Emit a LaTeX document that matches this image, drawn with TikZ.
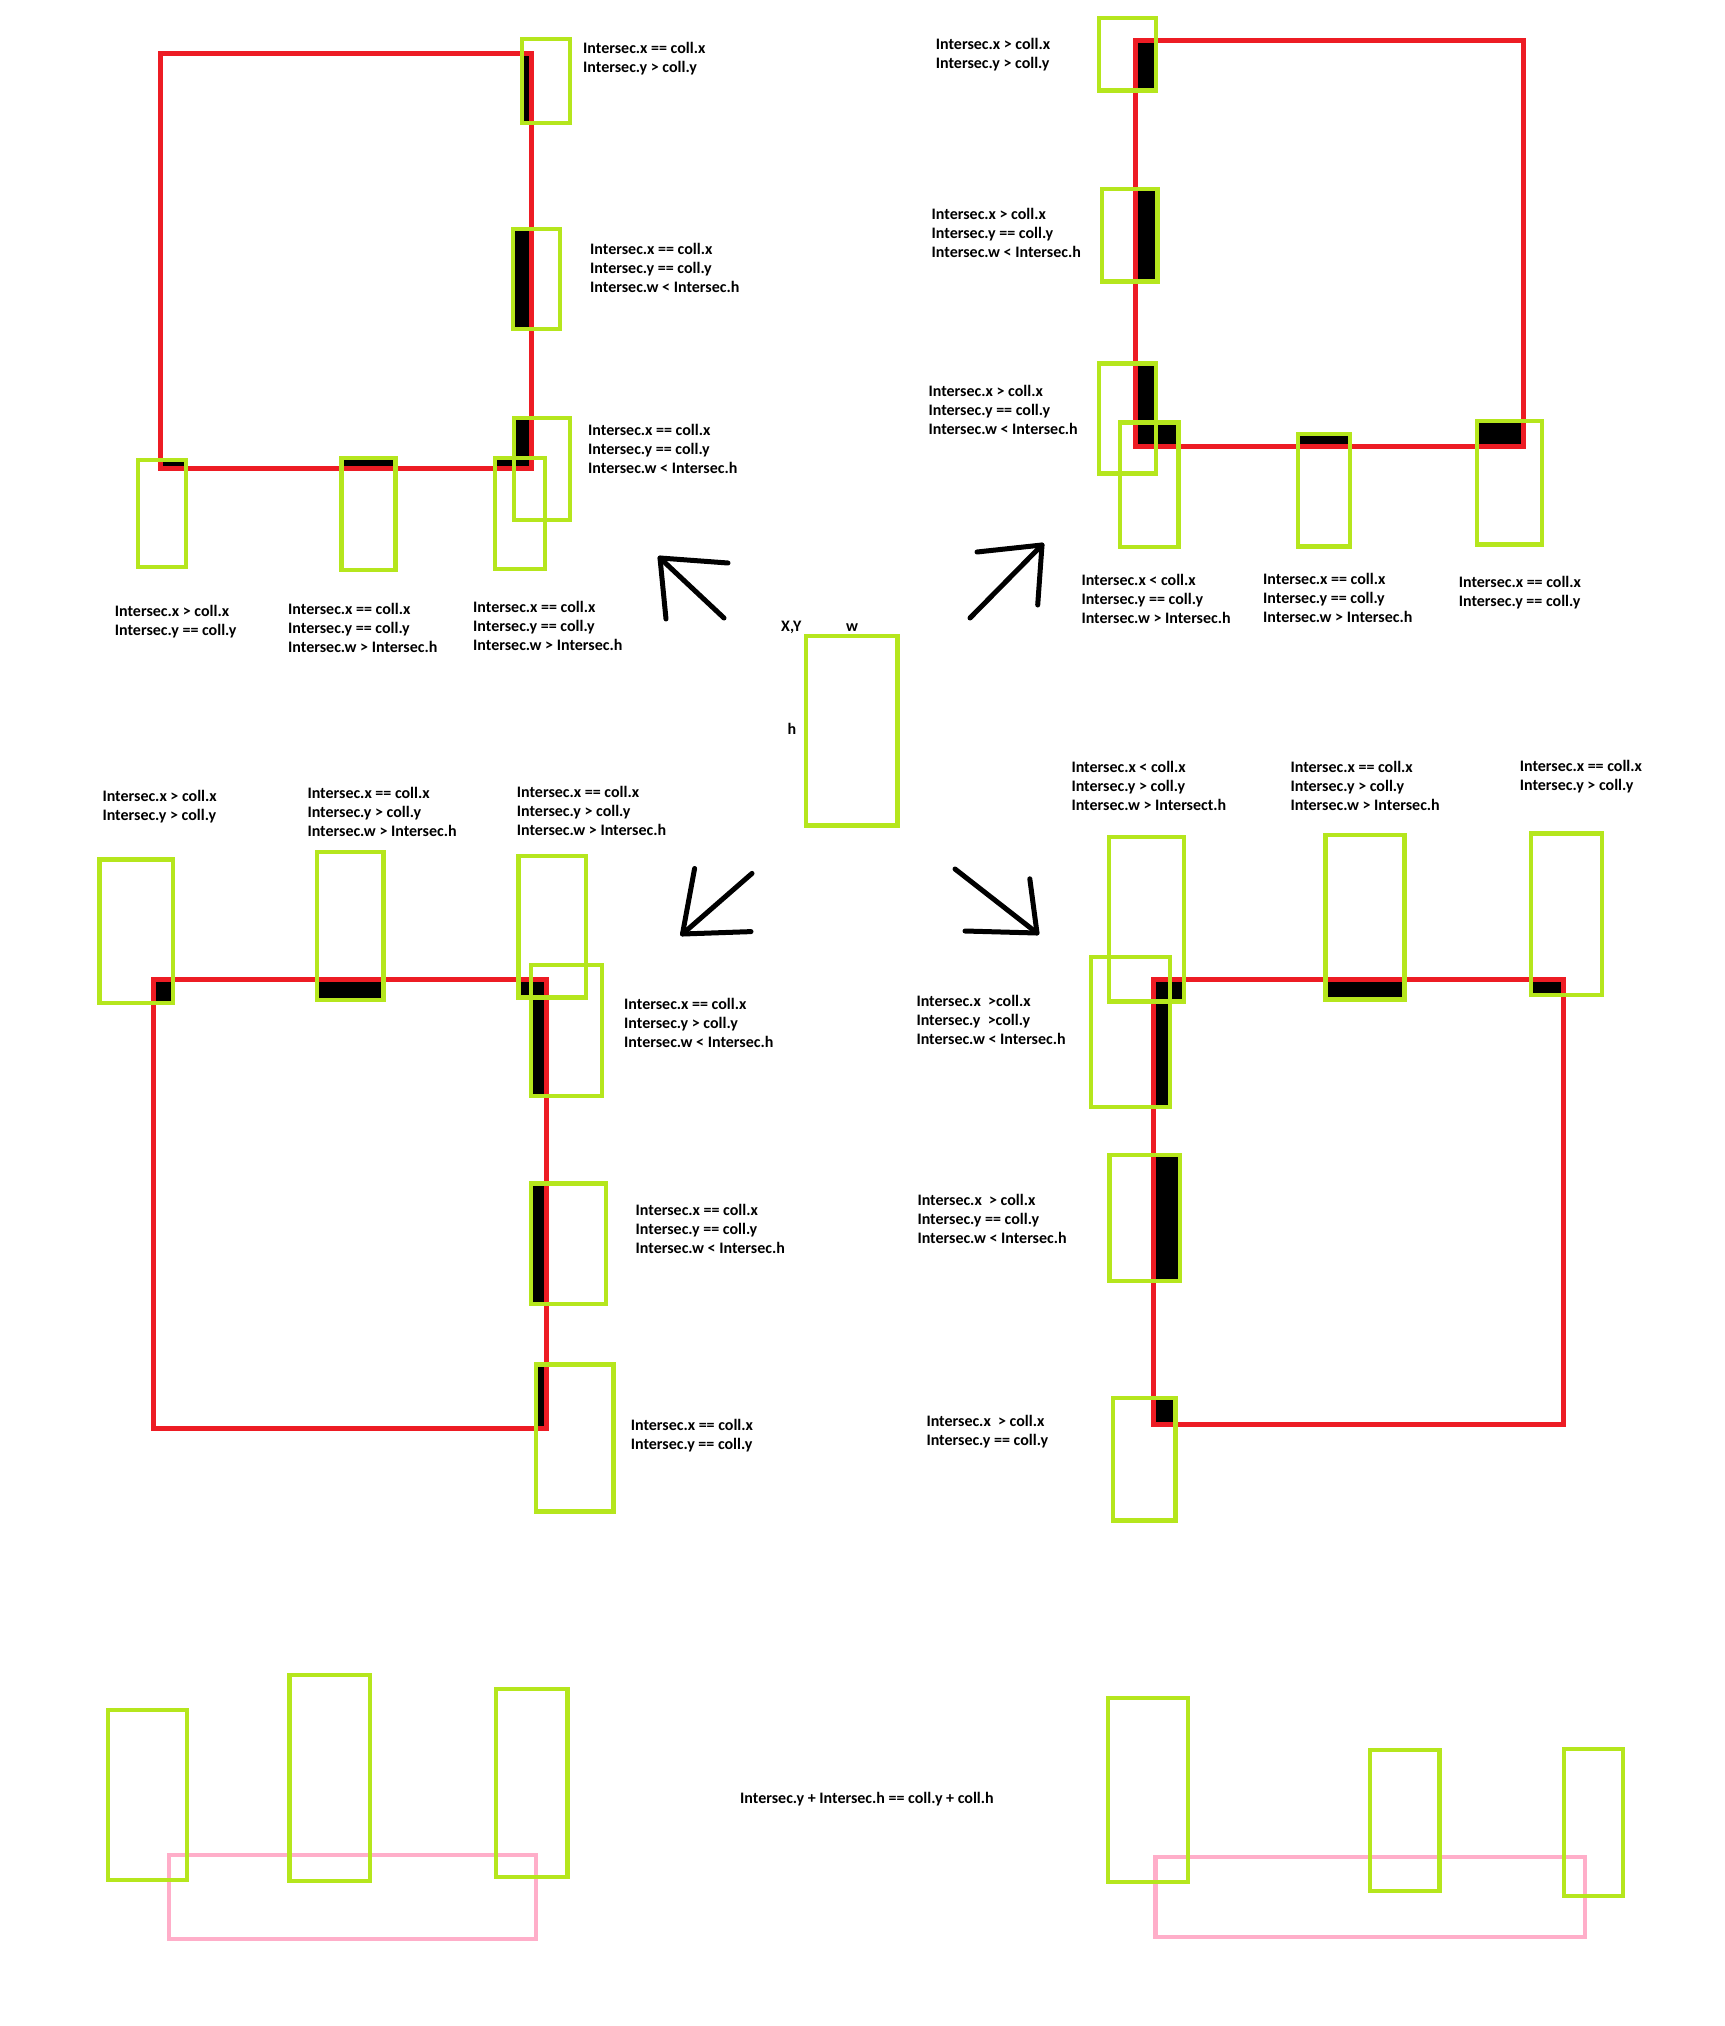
\documentclass[tikz,border=0pt]{standalone}
\usepackage{fontspec}
\setmainfont{Carlito}
\definecolor{pred}{HTML}{ED1C24}
\definecolor{plime}{HTML}{B5E61D}
\definecolor{ppink}{HTML}{FFAEC9}
\tikzset{
  redbox/.style={draw=pred, line width=5pt},
  greenbox/.style={draw=plime, line width=4.5pt},
  pinkbox/.style={draw=ppink, line width=4.5pt},
  hit/.style={fill=black},
  lbl/.style={anchor=base west, align=left, inner sep=0pt, font=\fontsize{16}{19}\selectfont\bfseries},
  arrowline/.style={draw=black, line width=5pt, line cap=round, line join=round},
}
\begin{document}
\begin{tikzpicture}[x=1pt,y=-1pt]
\useasboundingbox[fill=white] (0,0) rectangle (1724,2026);

% ---------------- top-left quadrant ----------------
\fill[hit] (522,53.5) rectangle (531,123);
\fill[hit] (513,229) rectangle (531,329);
\fill[hit] (514,418) rectangle (531,468);
\fill[hit] (495,458) rectangle (531,468);
\fill[hit] (341.5,458) rectangle (395.5,468);
\fill[hit] (160,460) rectangle (186,468);
\draw[redbox] (160,53.5) rectangle (531,468);
\draw[greenbox] (522,39) rectangle (570,123);
\draw[greenbox] (513,229) rectangle (560,329);
\draw[greenbox] (514,418) rectangle (570,520);
\draw[greenbox] (495,458) rectangle (545,569);
\draw[greenbox] (341.5,458) rectangle (395.5,570);
\draw[greenbox] (138,460) rectangle (186,567);
\node[lbl] (t1) at (583,73) {Intersec.x == coll.x\\Intersec.y > coll.y};
\node[lbl] (t2) at (590,292) {Intersec.x == coll.x\\Intersec.y == coll.y\\Intersec.w < Intersec.h};
\node[lbl] (t3) at (588,473.5) {Intersec.x == coll.x\\Intersec.y == coll.y\\Intersec.w < Intersec.h};
\node[lbl] (t4) at (114.7,635.5) {Intersec.x > coll.x\\Intersec.y == coll.y};
\node[lbl] (t5) at (288,652.5) {Intersec.x == coll.x\\Intersec.y == coll.y\\Intersec.w > Intersec.h};
\node[lbl] (t6) at (473,650.5) {Intersec.x == coll.x\\Intersec.y == coll.y\\Intersec.w > Intersec.h};

% ---------------- top-right quadrant ----------------
\fill[hit] (1135,41) rectangle (1156,90.6);
\fill[hit] (1135,189) rectangle (1157.5,281.6);
\fill[hit] (1135,363.7) rectangle (1156,446);
\fill[hit] (1135,422.4) rectangle (1178.5,446);
\fill[hit] (1298,434) rectangle (1350,446);
\fill[hit] (1477,421) rectangle (1523,446);
\draw[redbox] (1135,41) rectangle (1523,446);
\draw[greenbox] (1099,18) rectangle (1156,90.6);
\draw[greenbox] (1102,189) rectangle (1157.5,281.6);
\draw[greenbox] (1099,363.7) rectangle (1156,473.5);
\draw[greenbox] (1120,422.4) rectangle (1178.5,547);
\draw[greenbox] (1298,434) rectangle (1350,546.5);
\draw[greenbox] (1477,421) rectangle (1542,544.5);
\node[lbl] (t7) at (935.7,68.5) {Intersec.x > coll.x\\Intersec.y > coll.y};
\node[lbl] (t8) at (931.5,257.5) {Intersec.x > coll.x\\Intersec.y == coll.y\\Intersec.w < Intersec.h};
\node[lbl] (t9) at (928.4,434) {Intersec.x > coll.x\\Intersec.y == coll.y\\Intersec.w < Intersec.h};
\node[lbl] (t10) at (1081.3,623.5) {Intersec.x < coll.x\\Intersec.y == coll.y\\Intersec.w > Intersec.h};
\node[lbl] (t11) at (1263,622.5) {Intersec.x == coll.x\\Intersec.y == coll.y\\Intersec.w > Intersec.h};
\node[lbl] (t12) at (1458.6,606.5) {Intersec.x == coll.x\\Intersec.y == coll.y};

% ---------------- centre ----------------
\draw[greenbox] (806,636) rectangle (897.7,825.7);
\node[lbl] (t13) at (781,631) {X,Y};
\node[lbl, anchor=base] (t14) at (852,631) {w};
\node[lbl, anchor=base] (t15) at (792,734.5) {h};

% arrows
\coordinate (nwTail) at (724,618);
\coordinate (nwTip) at (660,558);
\coordinate (nwH1) at (728,563);
\coordinate (nwH2) at (666,619);
\draw[arrowline] (nwTail) -- (nwTip);
\draw[arrowline] (nwH1) -- (nwTip) -- (nwH2);

\coordinate (neTail) at (970,618);
\coordinate (neTip) at (1042,545);
\coordinate (neH1) at (977,552);
\coordinate (neH2) at (1037.7,605);
\draw[arrowline] (neTail) -- (neTip);
\draw[arrowline] (neH1) -- (neTip) -- (neH2);

\coordinate (swTail) at (752,873.4);
\coordinate (swTip) at (682.5,934);
\coordinate (swH1) at (694.6,868.5);
\coordinate (swH2) at (751,931.6);
\draw[arrowline] (swTail) -- (swTip);
\draw[arrowline] (swH1) -- (swTip) -- (swH2);

\coordinate (seTail) at (955,869);
\coordinate (seTip) at (1037,933);
\coordinate (seH1) at (965,931);
\coordinate (seH2) at (1029.8,878.8);
\draw[arrowline] (seTail) -- (seTip);
\draw[arrowline] (seH1) -- (seTip) -- (seH2);

% ---------------- bottom-left quadrant ----------------
\fill[hit] (153.7,979) rectangle (173,1002.8);
\fill[hit] (317,979) rectangle (383.4,1000);
\fill[hit] (518.7,979) rectangle (546.8,997.3);
\fill[hit] (530.8,979) rectangle (546.8,1095.8);
\fill[hit] (530.8,1183.4) rectangle (546.8,1303.8);
\fill[hit] (536,1364.5) rectangle (546.8,1428);
\draw[redbox] (153.7,979) rectangle (546.8,1428);
\draw[greenbox] (99.4,859.5) rectangle (173,1002.8);
\draw[greenbox] (317,852) rectangle (383.4,1000);
\draw[greenbox] (518.7,856) rectangle (586,997.3);
\draw[greenbox] (530.8,965) rectangle (602,1095.8);
\draw[greenbox] (530.8,1183.4) rectangle (606,1303.8);
\draw[greenbox] (536,1364.5) rectangle (613.7,1511.7);
\node[lbl] (t16) at (102.3,820.3) {Intersec.x > coll.x\\Intersec.y > coll.y};
\node[lbl] (t17) at (307.3,836.8) {Intersec.x == coll.x\\Intersec.y > coll.y\\Intersec.w > Intersec.h};
\node[lbl] (t18) at (516.7,835.3) {Intersec.x == coll.x\\Intersec.y > coll.y\\Intersec.w > Intersec.h};
\node[lbl] (t19) at (624,1047.8) {Intersec.x == coll.x\\Intersec.y > coll.y\\Intersec.w < Intersec.h};
\node[lbl] (t20) at (635.5,1253.5) {Intersec.x == coll.x\\Intersec.y == coll.y\\Intersec.w < Intersec.h};
\node[lbl] (t21) at (630.6,1449.5) {Intersec.x == coll.x\\Intersec.y == coll.y};

% ---------------- bottom-right quadrant ----------------
\fill[hit] (1153.8,979.8) rectangle (1183.8,1001.7);
\fill[hit] (1153.8,979.8) rectangle (1170,1107);
\fill[hit] (1325.6,979.8) rectangle (1404.5,999.7);
\fill[hit] (1531,979.8) rectangle (1563.7,995);
\fill[hit] (1153.8,1154.8) rectangle (1180,1280.8);
\fill[hit] (1153.8,1398) rectangle (1175.4,1424.7);
\draw[redbox] (1153.8,979.8) rectangle (1563.7,1424.7);
\draw[greenbox] (1109,837) rectangle (1183.8,1001.7);
\draw[greenbox] (1090.8,956.8) rectangle (1170,1107);
\draw[greenbox] (1325.6,835) rectangle (1404.5,999.7);
\draw[greenbox] (1531,833.4) rectangle (1602,995);
\draw[greenbox] (1109.7,1154.8) rectangle (1180,1280.8);
\draw[greenbox] (1113,1398) rectangle (1175.4,1520.6);
\node[lbl] (t22) at (1071.3,810) {Intersec.x < coll.x\\Intersec.y > coll.y\\Intersec.w > Intersect.h};
\node[lbl] (t23) at (1290.4,810) {Intersec.x == coll.x\\Intersec.y > coll.y\\Intersec.w > Intersec.h};
\node[lbl] (t24) at (1519.6,790) {Intersec.x == coll.x\\Intersec.y > coll.y};
\node[lbl] (t25) at (916.3,1044.7) {Intersec.x\ \ >coll.x\\Intersec.y\ \ >coll.y\\Intersec.w < Intersec.h};
\node[lbl] (t26) at (917.3,1243.7) {Intersec.x\ \ > coll.x\\Intersec.y == coll.y\\Intersec.w < Intersec.h};
\node[lbl] (t27) at (926.3,1445) {Intersec.x\ \ > coll.x\\Intersec.y == coll.y};

% ---------------- bottom row ----------------
\draw[pinkbox] (169,1855) rectangle (536,1939);
\draw[greenbox] (108,1710) rectangle (187,1880);
\draw[greenbox] (289.6,1675) rectangle (370,1881);
\draw[greenbox] (496,1689) rectangle (567.5,1877);
\node[lbl] (t28) at (740,1803.5) {Intersec.y + Intersec.h == coll.y + coll.h};
\draw[pinkbox] (1155.5,1857) rectangle (1585,1937);
\draw[greenbox] (1108,1698) rectangle (1188,1882);
\draw[greenbox] (1370,1750) rectangle (1439.5,1891);
\draw[greenbox] (1564,1749) rectangle (1623,1896);
\end{tikzpicture}
\end{document}
